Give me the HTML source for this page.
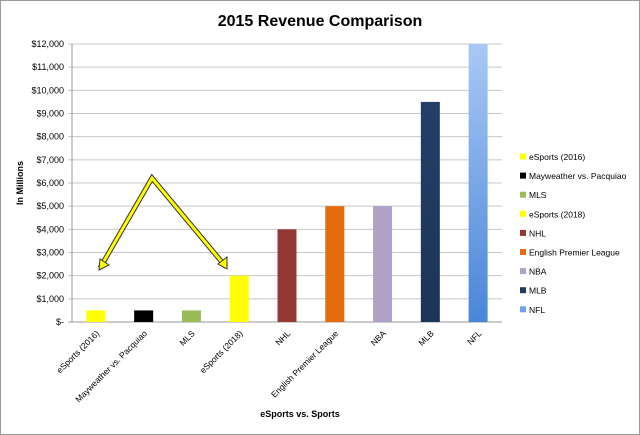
<!DOCTYPE html>
<html><head><meta charset="utf-8"><style>
html,body{margin:0;padding:0;background:#fff}
svg{display:block;font-family:"Liberation Sans",sans-serif}
</style></head><body>
<svg id="chart" width="640" height="435" viewBox="0 0 640 435">
<defs>
<linearGradient id="nflg" x1="0" y1="0" x2="0" y2="1"><stop offset="0" stop-color="#a9c8f5"/><stop offset="1" stop-color="#4a86d8"/></linearGradient>
<linearGradient id="mlbg" x1="0" y1="0" x2="0" y2="1"><stop offset="0" stop-color="#243f66"/><stop offset="1" stop-color="#1b3559"/></linearGradient>
</defs>
<rect x="0.5" y="0.5" width="639" height="434" fill="#fff" stroke="#9a9a9a"/>
<text x="320" y="26" text-anchor="middle" font-size="16" font-weight="bold" fill="#000">2015 Revenue Comparison</text>
<text transform="translate(23,183) rotate(-90)" text-anchor="middle" font-size="9" font-weight="bold">In Millions</text>
<text x="300" y="417" text-anchor="middle" font-size="9" font-weight="bold">eSports vs. Sports</text>
<g id="grid"></g><g id="bars"></g><g id="xlabels"></g><g id="legend"></g>
<g>
<polyline points="100,268 152,178 226,267" fill="none" stroke="#333" stroke-width="5" stroke-linejoin="miter"/>
<polyline points="100,268 152,178 226,267" fill="none" stroke="#ffff00" stroke-width="3" stroke-linejoin="miter"/>
<polygon points="99,270 100,259 109,265" fill="#ffff00" stroke="#333" stroke-width="1"/>
<polygon points="227,269 218,264 227,257" fill="#ffff00" stroke="#333" stroke-width="1"/>
</g>
</svg>
<script>
const categories=["eSports (2016)","Mayweather vs. Pacquiao","MLS","eSports (2018)","NHL","English Premier League","NBA","MLB","NFL"];
const values=[500,500,500,2000,4000,5000,5000,9500,12000];
const colors=["#ffff00","#000000","#9bbb59","#ffff00","#953735","#e46c0a","#b3a2c7","url(#mlbg)","url(#nflg)"];
const legendColors=["#ffff00","#000000","#9bbb59","#ffff00","#953735","#e46c0a","#b3a2c7","#1f3a60","#6fa2e8"];
const yTicks=[0,1000,2000,3000,4000,5000,6000,7000,8000,9000,10000,11000,12000];
const yTickLabels=["$-","$1,000","$2,000","$3,000","$4,000","$5,000","$6,000","$7,000","$8,000","$9,000","$10,000","$11,000","$12,000"];
const NS="http://www.w3.org/2000/svg";
const X0=72,X1=502,Y0=322,Y1=44,YMAX=12000;
const y=v=>Y0-(v/YMAX)*(Y0-Y1);
const band=(X1-X0)/categories.length;
const xc=i=>X0+band*(i+0.5);
function mk(t,a,p){const e=document.createElementNS(NS,t);for(const k in a)e.setAttribute(k,a[k]);p.appendChild(e);return e;}
const grid=document.getElementById('grid');
yTicks.forEach((t,i)=>{
 const l=mk('line',{x1:X0-4,x2:X1,y1:y(t),y2:y(t),stroke:i===0?'#999':'#c8c8c8','stroke-width':1},grid);
 
 
 const tx=mk('text',{x:X0-8,y:y(t)+3,'text-anchor':'end','font-size':9,fill:'#000'},grid);
 tx.textContent=yTickLabels[i];
 
 
});
const ax=mk('line',{x1:X0,x2:X0,y1:Y1,y2:Y0,stroke:'#999'},grid);


const bars=document.getElementById('bars'),xl=document.getElementById('xlabels'),lg=document.getElementById('legend');
const bw=19;
categories.forEach((c,i)=>{
 const r=mk('rect',{x:xc(i)-bw/2,y:y(values[i]),width:bw,height:Y0-y(values[i]),fill:colors[i]},bars);
 
 
 const t=mk('text',{transform:`translate(${xc(i)+4},${Y0+12}) rotate(-45)`,'text-anchor':'end','font-size':8.5,fill:'#000'},xl);
 t.textContent=c;
 
 
 const ly=157+i*19.1;
 const s=mk('rect',{x:520,y:ly-3.5,width:6,height:6,fill:legendColors[i]},lg);
 
 
 const lt=mk('text',{x:529,y:ly+3,'font-size':8.5,fill:'#000'},lg);
 lt.textContent=c;
 
 
});
</script>
</body></html>
